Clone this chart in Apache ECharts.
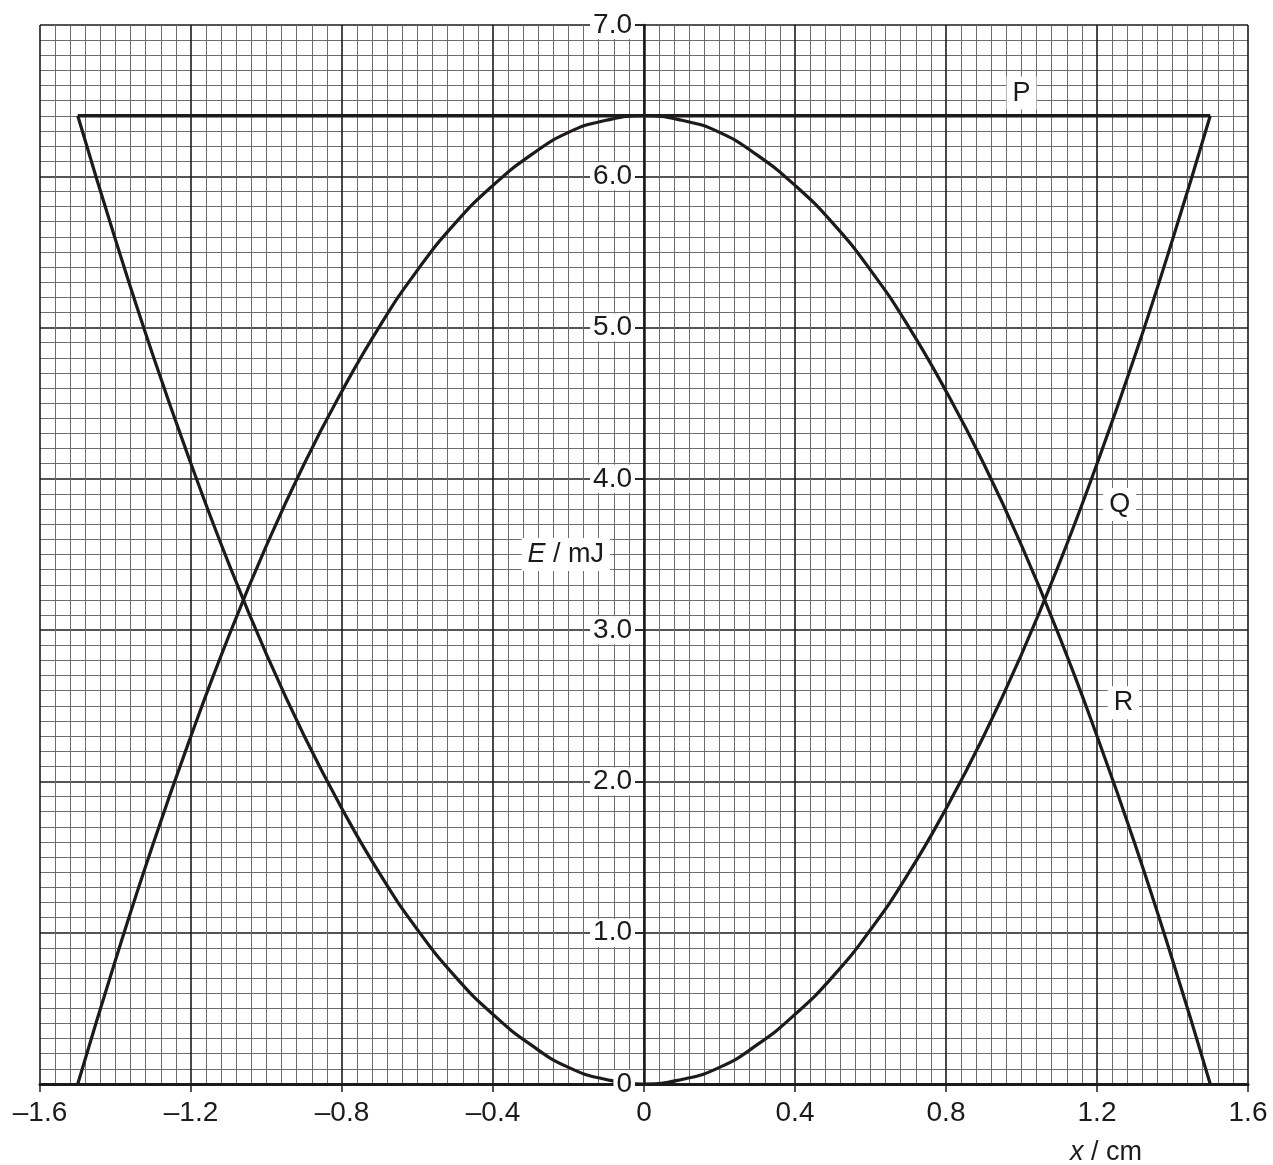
<!DOCTYPE html>
<html>
<head>
<meta charset="utf-8">
<script src="https://cdn.jsdelivr.net/npm/echarts@6/dist/echarts.min.js"></script>
<style>
html,body{margin:0;padding:0;background:#fff;}
#chart{width:1273px;height:1165px;}
</style>
</head>
<body>
<div id="chart"></div>
<script>
// ---- data ----
const xValues = [-1.5,-1.4,-1.3,-1.2,-1.1,-1.0,-0.9,-0.8,-0.7,-0.6,-0.5,-0.4,-0.3,-0.2,-0.1,0,
                 0.1,0.2,0.3,0.4,0.5,0.6,0.7,0.8,0.9,1.0,1.1,1.2,1.3,1.4,1.5];
const curveQ = [6.40,5.58,4.81,4.10,3.44,2.84,2.30,1.82,1.39,1.02,0.71,0.46,0.26,0.11,0.03,0,
                0.03,0.11,0.26,0.46,0.71,1.02,1.39,1.82,2.30,2.84,3.44,4.10,4.81,5.58,6.40];
const curveR = [0,0.82,1.59,2.30,2.96,3.56,4.10,4.58,5.01,5.38,5.69,5.94,6.14,6.29,6.37,6.40,
                6.37,6.29,6.14,5.94,5.69,5.38,5.01,4.58,4.10,3.56,2.96,2.30,1.59,0.82,0];
const lineP_x = [-1.5, 1.5];
const lineP_y = [6.4, 6.4];
const xTicks = [-1.6,-1.2,-0.8,-0.4,0,0.4,0.8,1.2,1.6];
const yTicks = [0,1,2,3,4,5,6,7];
const curveLabels = [
  {name:'P', x:1.0, y:6.55},
  {name:'Q', x:1.26, y:3.83},
  {name:'R', x:1.27, y:2.52}
];
const axisTitleE = {x:-0.207, y:3.50};
const axisTitleX = {x:1.224, y:-0.45};

const INK = '#1d1a1b';
const FONT = '"Liberation Sans", Arial, sans-serif';

function fmtX(v){
  if (Math.abs(v) < 1e-9) return '0';
  return (v < 0 ? '\u2013' : '') + Math.abs(v).toFixed(1);
}
function fmtY(v){
  if (Math.abs(v) < 1e-9) return '0';
  return v.toFixed(1);
}

const zip = (a,b) => a.map((v,i)=>[v,b[i]]);

const labelData = curveLabels.map(l => ({value:[l.x,l.y], name:l.name,
  label:{formatter:l.name}}));
labelData.push({value:[axisTitleE.x, axisTitleE.y], name:'E',
  label:{formatter:'{i|E}{n| / mJ}'}});
labelData.push({value:[axisTitleX.x, axisTitleX.y], name:'x',
  label:{formatter:'{i|x}{n| / cm}', backgroundColor:'transparent'}});

const GRID = {left:40, right:25, top:25, bottom:81};

const chart = echarts.init(document.getElementById('chart'), null, {renderer:'canvas'});
const option = {
  animation:false,
  backgroundColor:'#fff',
  grid:{left:GRID.left, right:GRID.right, top:GRID.top, bottom:GRID.bottom, containLabel:false, outerBoundsMode:'none'},
  xAxis:[
    { // main axis: line, ticks, labels
      type:'value', min:-1.6, max:1.6, interval:0.4, z:10,
      position:'bottom',
      axisLine:{show:true, onZero:true, lineStyle:{color:INK, width:3}},
      axisTick:{show:true, inside:false, length:8, lineStyle:{color:INK, width:1.5}},
      axisLabel:{show:true, margin:15, formatter:fmtX, color:INK, fontSize:28, fontFamily:FONT},
      splitLine:{show:false}
    },
    { // grid only
      type:'value', min:-1.6, max:1.6, interval:0.4, z:0,
      position:'top',
      axisLine:{show:false, onZero:false}, axisTick:{show:false}, axisLabel:{show:false},
      splitLine:{show:true, lineStyle:{color:INK, width:1.6}},
      minorTick:{show:false, splitNumber:10},
      minorSplitLine:{show:true, lineStyle:{color:'#6d6d6d', width:1}}
    }
  ],
  yAxis:[
    {
      type:'value', min:0, max:7, interval:1, z:10,
      position:'left', offset:0,
      axisLine:{show:true, onZero:true, lineStyle:{color:INK, width:2.5}},
      axisTick:{show:true, inside:false, length:9, lineStyle:{color:INK, width:1.5}},
      axisLabel:{show:true, margin:9, formatter:fmtY, color:INK, fontSize:28, fontFamily:FONT,
        backgroundColor:'#fff', padding:[0,3,0,3]},
      splitLine:{show:false}
    },
    {
      type:'value', min:0, max:7, interval:1, z:0,
      position:'right',
      axisLine:{show:false, onZero:false}, axisTick:{show:false}, axisLabel:{show:false},
      splitLine:{show:true, lineStyle:{color:INK, width:1.6}},
      minorTick:{show:false, splitNumber:10},
      minorSplitLine:{show:true, lineStyle:{color:'#6d6d6d', width:1}}
    }
  ],
  series:[
    {
      type:'line', name:'P', xAxisIndex:0, yAxisIndex:0, z:3,
      data:zip(lineP_x, lineP_y), showSymbol:false, symbol:'none',
      lineStyle:{color:INK, width:3.5}
    },
    {
      type:'line', name:'Q', xAxisIndex:0, yAxisIndex:0, z:3,
      data:zip(xValues, curveQ), smooth:true, showSymbol:false, symbol:'none',
      lineStyle:{color:INK, width:3.2}
    },
    {
      type:'line', name:'R', xAxisIndex:0, yAxisIndex:0, z:3,
      data:zip(xValues, curveR), smooth:true, showSymbol:false, symbol:'none',
      lineStyle:{color:INK, width:3.2}
    },
    {
      type:'scatter', name:'labels', xAxisIndex:0, yAxisIndex:0, z:12,
      clip:false, symbolSize:1, itemStyle:{color:'#ffffff', opacity:1},
      data:labelData,
      label:{show:true, position:'inside', color:INK, fontSize:27, fontFamily:FONT,
        textBorderWidth:0, backgroundColor:'#fff', padding:[3,6,3,6],
        rich:{
          i:{fontStyle:'italic', fontSize:27, fontFamily:FONT, color:INK, textBorderWidth:0},
          n:{fontSize:27, fontFamily:FONT, color:INK, textBorderWidth:0}
        }}
    }
  ]
};
chart.setOption(option);

// place the y axis line on x = 0 (ECharts v6 keeps it at the grid edge here)
const zeroPx = chart.convertToPixel({xAxisIndex:0}, 0);
const leftPx = chart.convertToPixel({xAxisIndex:0}, -1.6);
chart.setOption({yAxis:[{offset: -(zeroPx - leftPx)}, {}]});
</script>
</body>
</html>
